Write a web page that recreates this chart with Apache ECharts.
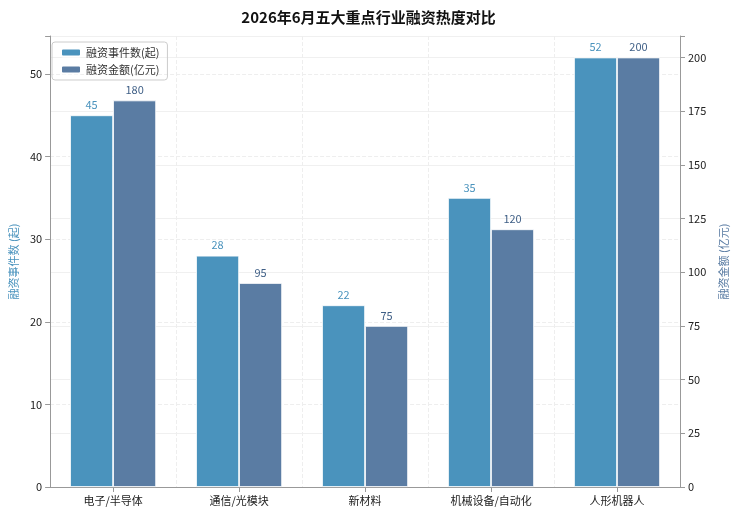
<!DOCTYPE html>
<html><head><meta charset="utf-8">
<script src="https://cdn.jsdelivr.net/npm/echarts@6/dist/echarts.min.js"></script>
<style>html,body{margin:0;padding:0;background:#fff}#c{width:737px;height:515px}</style>
</head><body><div id="c"></div>
<script>
const categories = ['电子/半导体','通信/光模块','新材料','机械设备/自动化','人形机器人'];
const eventCounts = [45, 28, 22, 35, 52];
const amounts = [180, 95, 75, 120, 200];
const leftTicks = [0,10,20,30,40,50];
const rightTicks = [0,25,50,75,100,125,150,175,200];
const font = '"Noto Sans CJK SC","DejaVu Sans",sans-serif';
const c1 = '#4a93bd', c2 = '#5a7ca3';
const chart = echarts.init(document.getElementById('c'));
chart.setOption({
  textStyle:{fontFamily:font},
  title:{text:'2026年6月五大重点行业融资热度对比',left:'center',top:5,textStyle:{fontSize:15,fontWeight:'bold',color:'#111',fontFamily:font}},
  legend:{left:52,top:42,orient:'vertical',itemWidth:20,itemHeight:8,itemGap:6,padding:[5,8],borderColor:'#ccc',borderWidth:1,borderRadius:3,textStyle:{fontSize:11,color:'#333'},data:['融资事件数(起)','融资金额(亿元)']},
  grid:{left:44,right:51,top:36,bottom:28},
  xAxis:{type:'category',data:categories,axisTick:{show:true,alignWithLabel:true,lineStyle:{color:'#999'}},axisLine:{lineStyle:{color:'#999'}},axisLabel:{color:'#222',fontSize:11},splitLine:{show:true,interval:0,lineStyle:{color:'#eee',type:'dashed'}}},
  yAxis:[
    {type:'value',min:0,max:54.6,interval:10,name:'融资事件数 (起)',nameLocation:'middle',nameGap:28,nameTextStyle:{color:c1,fontSize:11},
     axisLabel:{color:'#222',fontSize:11,formatter:v=>leftTicks.includes(v)?v:''},axisLine:{show:true,lineStyle:{color:'#999'}},axisTick:{show:true},splitLine:{lineStyle:{color:'#eee',type:'dashed'}}},
    {type:'value',min:0,max:210,interval:25,name:'融资金额 (亿元)',nameLocation:'middle',nameGap:38,nameRotate:90,nameTextStyle:{color:c2,fontSize:11},
     axisLabel:{color:'#222',fontSize:11,formatter:v=>rightTicks.includes(v)?v:''},axisLine:{show:true,lineStyle:{color:'#999'}},axisTick:{show:true},splitLine:{show:true,lineStyle:{color:'#f0f0f0'}}}
  ],
  series:[
    {name:'融资事件数(起)',type:'bar',yAxisIndex:0,data:eventCounts,barWidth:43,barGap:'0%',itemStyle:{color:c1,borderColor:'#fff',borderWidth:0.8},label:{show:true,position:'top',color:c1,fontSize:11}},
    {name:'融资金额(亿元)',type:'bar',yAxisIndex:1,data:amounts,barWidth:43,itemStyle:{color:c2,borderColor:'#fff',borderWidth:0.8},label:{show:true,position:'top',color:'#3f5f86',fontSize:11}}
  ]
});
</script></body></html>
